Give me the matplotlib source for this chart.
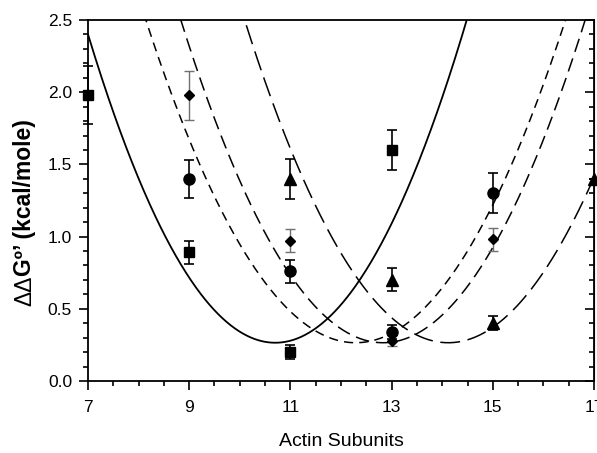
import numpy as np
import matplotlib.pyplot as plt
from matplotlib.ticker import MultipleLocator

plt.rcParams["font.family"] = ["Liberation Sans", "DejaVu Sans"]

# measured points (x = number of actin subunits)
square_x = [7, 9, 11, 13]
square_y = [1.98, 0.89, 0.20, 1.60]
square_err = [0.20, 0.08, 0.05, 0.14]

circle_x = [9, 11, 13, 15]
circle_y = [1.40, 0.76, 0.34, 1.30]
circle_err = [0.13, 0.08, 0.05, 0.14]

diamond_x = [9, 11, 13, 15]
diamond_y = [1.98, 0.97, 0.28, 0.98]
diamond_err = [0.17, 0.08, 0.04, 0.08]

triangle_x = [11, 13, 15, 17]
triangle_y = [1.40, 0.70, 0.40, 1.40]
triangle_err = [0.14, 0.08, 0.05, 0.0]

# fitted parabolas: y = floor + k * (x - center)^2
fit_center = [10.70, 12.29, 12.83, 14.12]
fit_floor = [0.265, 0.265, 0.265, 0.265]
fit_k = [0.156, 0.130, 0.140, 0.138]
fit_dash = [None, (6, 4), (9, 4.5), (13, 5)]

x_ticks = [7, 9, 11, 13, 15, 17]

W, H = 597, 453
fig = plt.figure(figsize=(W / 100, H / 100), dpi=100)
ax = fig.add_axes([88 / W, 1 - 381 / H, 506 / W, 361 / H])

xs = np.linspace(7, 17, 600)
for c, f, k, d in zip(fit_center, fit_floor, fit_k, fit_dash):
    ys = f + k * (xs - c) ** 2
    if d is None:
        ax.plot(xs, ys, color="black", lw=1.3)
    else:
        ax.plot(xs, ys, color="black", lw=1.1, dashes=d)

ebk = dict(ls="none", color="black", ecolor="black", elinewidth=1.2,
           capsize=3.5, capthick=1.2, clip_on=False, zorder=5)
ax.errorbar(square_x, square_y, yerr=square_err, marker="s", ms=7, **ebk)
ax.errorbar(circle_x, circle_y, yerr=circle_err, marker="o", ms=8, **ebk)
ax.errorbar(triangle_x, triangle_y, yerr=triangle_err, marker="^", ms=8, **ebk)
ax.errorbar(diamond_x, diamond_y, yerr=diamond_err, marker="D", ms=5,
            ls="none", color="black", ecolor="#707070", elinewidth=1.0,
            capsize=3.5, capthick=1.0, clip_on=False, zorder=5)

ax.set_xlim(7, 17)
ax.set_ylim(0, 2.5)
ax.set_xticks(x_ticks)
ax.xaxis.set_minor_locator(MultipleLocator(0.5))
ax.yaxis.set_major_locator(MultipleLocator(0.5))
ax.yaxis.set_minor_locator(MultipleLocator(0.1))
ax.yaxis.set_major_formatter(plt.FormatStrFormatter("%.1f"))

ax.tick_params(which="both", direction="out", width=1.2, labelsize=12.5,
               top=False, right=False)
ax.tick_params(which="major", length=6.5, pad=5)
ax.tick_params(which="minor", length=3.5)
ax.tick_params(axis="x", which="major", pad=7)
for s in ax.spines.values():
    s.set_linewidth(1.3)

# right-hand axis: inward ticks, no labels
rax = ax.secondary_yaxis("right")
rax.yaxis.set_major_locator(MultipleLocator(0.5))
rax.yaxis.set_minor_locator(MultipleLocator(0.1))
rax.tick_params(which="both", direction="in", width=1.2, labelright=False)
rax.tick_params(which="major", length=6.5)
rax.tick_params(which="minor", length=3.5)

ax.set_xlabel("Actin Subunits", fontsize=14, labelpad=13)

# y label: regular deltas followed by bold text
x0, y0 = 31 / W, 1 - 306 / H
t1 = fig.text(x0, y0, "ΔΔ", rotation=90, rotation_mode="anchor",
              ha="left", va="baseline", fontsize=16.5)
fig.canvas.draw()
bb = t1.get_window_extent()
fig.text(x0, y0 + bb.height / H, "Gº’ (kcal/mole)", rotation=90,
         rotation_mode="anchor", ha="left", va="baseline",
         fontsize=16.5, fontweight="bold")

plt.savefig("out.png", dpi=100)
